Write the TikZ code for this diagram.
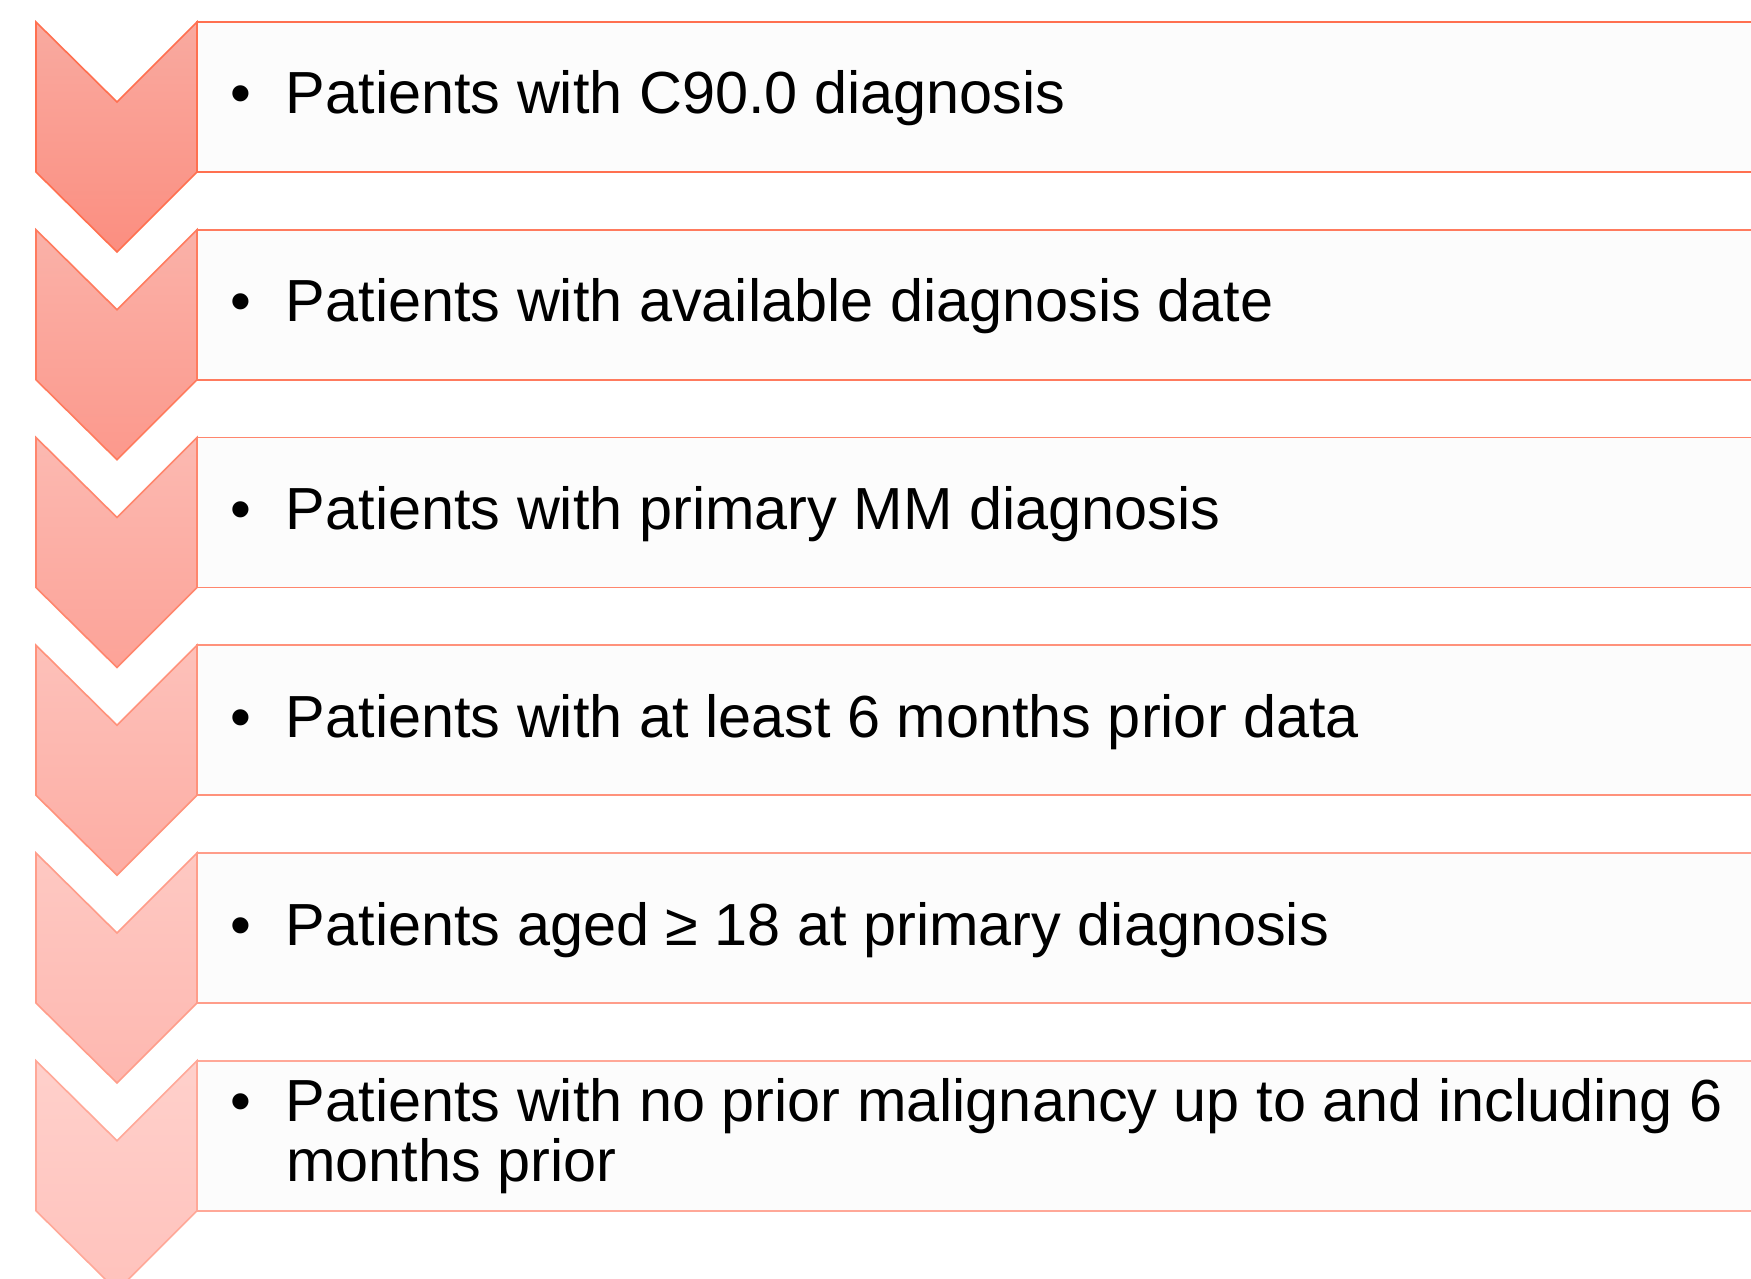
\documentclass[tikz,border=0pt]{standalone}
\usepackage{fontspec}
\setmainfont{Liberation Sans}
\definecolor{boxfill}{HTML}{FCFCFC}
\definecolor{chevTopA}{HTML}{F9AAA0}
\definecolor{chevTopB}{HTML}{FFD0CB}
\definecolor{chevBotA}{HTML}{FB8E80}
\definecolor{chevBotB}{HTML}{FFC2BC}
\definecolor{edgeA}{HTML}{FF7050}
\definecolor{edgeB}{HTML}{FFA898}
\begin{document}
\begin{tikzpicture}[x=0.5pt,y=-0.5pt,
  rowbox/.style={fill=boxfill, line width=0.8pt},
  chevron/.style={line width=0.8pt, line join=miter},
  itemtext/.style={anchor=base west, inner sep=0pt, outer sep=0pt,
    font=\fontsize{29.7}{30.4}\selectfont}]
\useasboundingbox (0,0) rectangle (1751,1279);
\clip (0,0) rectangle (1751,1279);

% six steps: a text band and a chevron whose colour fades from row to row
\foreach \i in {0,...,5} {
  \pgfmathsetmacro{\yt}{22+207.75*\i}
  \pgfmathtruncatemacro{\p}{20*\i}
  \colorlet{ctop}{chevTopB!\p!chevTopA}
  \colorlet{cbot}{chevBotB!\p!chevBotA}
  \colorlet{cline}{edgeB!\p!edgeA}
  \path[rowbox, draw=cline] (197,\yt) rectangle (1770,\yt+150);
  \shade[chevron, top color=ctop, bottom color=cbot, draw=cline]
    (36,\yt) -- (117,\yt+80) -- (197,\yt) -- (197,\yt+150)
    -- (117,\yt+230) -- (36,\yt+150) -- cycle;
}

\node[itemtext] (s1) at (230,114)    {\makebox[28pt][l]{•}Patients with C90.0 diagnosis};
\node[itemtext] (s2) at (230,321.75) {\makebox[28pt][l]{•}Patients with available diagnosis date};
\node[itemtext] (s3) at (230,529.5)  {\makebox[28pt][l]{•}Patients with primary MM diagnosis};
\node[itemtext] (s4) at (230,737.25) {\makebox[28pt][l]{•}Patients with at least 6 months prior data};
\node[itemtext] (s5) at (230,945)    {\makebox[28pt][l]{•}Patients aged ≥ 18 at primary diagnosis};
\node[itemtext] (s6) at (230,1121)   {\makebox[28pt][l]{•}\vtop{\hbox{Patients with no prior malignancy up to and including 6}\hbox{months prior}}};
\end{tikzpicture}
\end{document}
